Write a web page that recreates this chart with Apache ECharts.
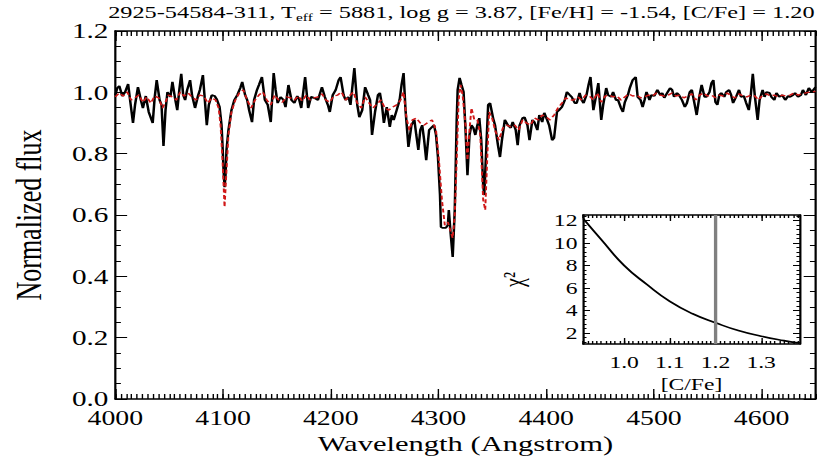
<!DOCTYPE html>
<html>
<head>
<meta charset="utf-8">
<script src="https://cdn.jsdelivr.net/npm/echarts@6/dist/echarts.min.js"></script>
<style>
  html, body { margin: 0; padding: 0; background: #fff; overflow: hidden; width: 817px; height: 461px; }
  /* the figure is laid out on a narrower canvas and widened horizontally */
  #chart { width: 588px; height: 461px; transform: scaleX(1.3895); transform-origin: 0 0; }
</style>
</head>
<body>
<div id="chart"></div>
<script>
// ---- observed spectrum (black) ----
const obsWave = [
  4000.0,4001.8,4003.7,4006.4,4009.1,4011.9,4013.7,4016.4,4018.3,4021.0,4023.7,4025.6,4028.3,4031.0,4034.7,
  4036.5,4038.4,4041.1,4042.9,4044.7,4046.6,4048.4,4051.1,4053.0,4055.7,4057.5,4059.4,4061.2,4063.0,4064.8,
  4066.7,4069.4,4071.2,4074.0,4076.7,4078.5,4081.3,4083.1,4084.9,4086.8,4089.5,4092.2,4094.1,4096.8,4098.6,
  4099.5,4100.5,4101.4,4102.3,4103.2,4105.0,4107.8,4110.5,4113.2,4116.0,4117.8,4120.5,4122.4,4124.2,4126.9,
  4128.8,4131.5,4133.3,4136.1,4138.8,4141.5,4144.3,4147.0,4148.8,4150.7,4153.4,4156.2,4158.0,4160.7,4163.5,
  4166.2,4168.9,4170.8,4172.6,4176.2,4179.0,4181.7,4184.5,4188.1,4191.8,4194.5,4197.3,4199.1,4201.8,4204.6,
  4207.3,4209.1,4211.9,4213.7,4216.4,4218.3,4221.9,4224.6,4226.5,4229.2,4231.9,4234.7,4236.5,4238.3,4241.1,
  4243.8,4245.6,4247.5,4249.3,4252.0,
  4254.8,4256.6,4258.4,4261.2,4263.9,4265.7,4267.6,4269.4,4272.1,4274.9,4277.6,4279.4,4281.3,4283.1,4284.9,
  4286.7,4288.6,4291.3,4294.0,4295.9,4297.7,4299.5,4301.4,4302.3,4304.1,4306.8,4308.7,4309.6,4311.4,4313.2,
  4315.1,4316.9,4317.8,4319.6,4321.4,4323.3,4325.1,4326.9,4328.8,4330.6,4332.4,4334.2,4336.1,4337.9,4339.7,
  4341.5,4342.5,4344.3,4346.1,4347.9,4350.7,4352.5,4355.2,4357.1,4358.9,4361.6,4364.4,4367.1,4368.9,4371.7,
  4373.5,4375.3,4378.1,4379.9,
  4382.6,4384.5,4387.2,4389.0,4391.8,4393.6,4396.3,4398.2,4400.9,4402.7,4405.5,4407.3,4410.0,4411.9,4414.6,
  4417.3,4419.2,4421.9,4423.7,4426.5,4428.3,4431.0,4432.9,4434.7,4437.4,4439.3,4441.1,4443.8,4445.6,4448.4,
  4451.1,4452.9,4455.7,4457.5,4460.3,4462.1,4464.8,4466.7,4469.4,4471.2,4473.0,4475.8,4477.6,4480.3,4483.1,
  4484.9,4487.6,4489.5,4491.3,4493.1,4495.9,4497.7,4500.4,4503.2,4505.9,4507.7,4509.6,
  4512.3,4515.0,4516.9,4518.7,4521.4,4523.3,4526.0,4528.7,4530.6,4533.3,4535.2,4537.9,4539.7,4542.4,4544.3,
  4547.0,4548.8,4551.6,4553.4,4555.2,4557.1,4558.9,4560.7,4562.5,4565.3,4567.1,4569.8,4571.7,4573.5,4576.2,
  4579.0,4580.8,4583.5,4585.4,4588.1,4589.9,4591.8,4593.6,4596.3,4598.1,4600.9,4602.7,4604.5,4607.3,4609.1,
  4611.8,4613.7,4616.4,4619.1,4621.9,4624.6,4626.4,4629.2,4631.0,4633.8,4636.5,4638.3,4641.1,4643.8,4646.5,4650.0
];
const obsFlux = [
  0.991,1.014,1.021,0.988,1.001,1.027,0.975,0.900,0.959,1.017,0.975,0.949,0.988,0.936,0.900,
  0.982,1.040,0.975,0.959,0.825,0.942,1.001,0.985,1.034,0.975,0.942,1.008,1.060,0.991,0.975,
  1.008,1.040,0.991,0.949,0.988,1.008,1.056,0.975,0.893,0.959,0.991,0.988,0.978,0.952,0.893,
  0.828,0.746,0.691,0.730,0.812,0.877,0.942,0.975,0.991,1.014,1.034,0.991,0.975,0.942,0.903,
  0.975,1.008,1.024,1.050,0.975,0.959,0.903,1.063,1.008,0.965,0.985,0.975,0.952,1.024,0.975,
  0.965,0.988,0.975,0.949,1.050,0.949,0.985,0.982,0.975,1.017,0.985,0.959,0.936,0.991,1.008,
  1.040,1.050,0.991,0.975,0.985,0.959,1.079,0.959,0.919,0.942,1.017,0.991,0.975,0.861,0.936,
  0.991,0.998,0.959,0.900,0.952,
  0.887,0.926,0.910,0.942,0.975,1.024,1.063,0.942,0.822,0.893,0.910,0.861,0.812,0.877,0.893,
  0.844,0.779,0.877,0.887,0.893,0.861,0.789,0.665,0.561,0.558,0.558,0.567,0.616,0.535,0.463,
  0.616,0.910,1.008,1.047,1.024,1.001,0.877,0.730,0.861,0.893,0.884,0.861,0.893,0.916,0.844,
  0.698,0.665,0.812,0.959,0.965,0.916,0.893,0.828,0.789,0.844,0.910,0.893,0.884,0.903,0.877,
  0.828,0.893,0.916,0.919,
  0.893,0.844,0.910,0.903,0.877,0.926,0.903,0.933,0.910,0.893,0.844,0.851,0.936,0.942,0.952,
  0.975,1.001,0.991,0.985,0.965,0.965,0.998,0.975,0.965,0.991,1.024,1.050,0.942,0.975,1.030,
  0.910,0.959,1.014,0.991,0.985,1.001,0.975,0.975,0.949,0.936,0.968,0.991,1.014,1.040,1.050,
  0.985,0.975,0.952,0.975,1.001,0.975,0.991,0.988,1.008,0.991,0.998,0.982,
  0.998,1.014,1.008,0.985,0.998,0.991,0.975,0.952,0.965,1.001,1.008,0.959,0.926,0.991,1.024,
  0.985,0.985,1.001,1.030,1.040,0.968,0.959,0.991,0.998,0.985,1.001,1.008,0.991,0.965,0.985,
  1.008,0.985,0.988,0.968,0.942,0.991,1.060,0.991,0.910,0.975,1.008,0.985,1.001,0.998,0.985,
  0.975,0.998,0.985,0.991,0.975,0.988,0.985,0.991,0.998,0.985,0.991,1.008,0.991,1.014,1.001,1.017
];

// ---- best-fit synthetic spectrum (red dashed) ----
const modelWave = [
  4000.0,4003.7,4007.3,4011.0,4014.6,4018.3,4021.9,4025.6,4029.2,4032.9,4036.5,4040.2,4043.8,4046.6,4049.3,
  4053.0,4056.6,4060.3,4063.9,4067.6,4071.2,4074.9,4078.5,4082.2,4085.8,4089.5,4093.1,4095.9,4097.7,4099.5,
  4101.4,4103.2,4105.0,4107.8,4111.4,4115.1,4118.7,4122.4,4126.0,4129.7,4133.3,4137.0,4140.6,4144.3,4147.9,
  4151.6,4155.2,4158.9,4162.5,4166.2,4169.9,4173.5,4177.2,4180.8,4184.5,4188.1,4191.8,4195.4,4199.1,4202.7,
  4206.4,4210.0,4213.7,4217.3,4221.0,4224.6,4228.3,4231.9,4235.6,4239.3,4242.9,4246.6,4250.2,4253.9,4257.5,
  4261.2,4264.8,4267.6,4270.3,4273.0,4275.8,4279.4,4283.1,4286.7,4290.4,4294.0,4297.7,4300.4,4303.2,4305.9,
  4308.7,4311.4,4313.2,4315.1,4316.9,4318.7,4320.5,4322.4,4325.1,4326.9,4328.8,4330.6,4333.3,4336.1,4338.8,
  4341.5,4343.4,4345.2,4347.0,4349.8,4352.5,4356.1,4359.8,4363.5,4367.1,4370.8,4374.4,4378.1,4381.7,4385.4,
  4389.0,4392.7,4396.3,4400.0,4403.6,4407.3,4410.9,4414.6,4418.2,4421.9,4425.5,4429.2,4432.9,4436.5,4440.2,
  4443.8,4447.5,4451.1,4454.8,4458.4,4462.1,4465.7,4469.4,4473.0,4476.7,4480.3,4484.0,4487.6,4491.3,4494.9,
  4498.6,4502.3,4505.9,4509.6,4513.2,4516.9,4520.5,4524.2,4527.8,4531.5,4535.2,4538.8,4542.4,4546.1,4549.7,
  4553.4,4557.1,4560.7,4564.4,4568.0,4571.7,4575.3,4579.0,4582.6,4586.3,4589.9,4593.6,4597.2,4600.9,4604.5,
  4608.2,4611.8,4615.5,4619.1,4622.8,4626.4,4630.1,4633.8,4637.4,4641.1,4644.7,4650.0
];
const modelFlux = [
  0.985,0.998,0.988,1.001,0.975,0.982,0.991,0.968,0.985,0.965,0.988,0.982,0.949,0.968,0.991,
  0.985,0.975,1.001,0.988,0.998,0.985,0.975,0.991,0.988,0.965,0.982,0.975,0.949,0.893,0.779,
  0.626,0.746,0.861,0.936,0.975,0.998,1.008,0.975,0.949,0.975,0.991,1.001,0.975,0.959,0.991,
  0.975,0.968,0.985,0.982,0.975,0.988,0.972,0.991,0.975,0.982,0.985,0.995,0.975,0.968,0.988,
  0.991,1.001,0.975,0.988,1.001,0.965,0.949,0.985,0.965,0.949,0.962,0.975,0.949,0.942,0.952,
  0.959,0.975,1.001,0.916,0.877,0.910,0.916,0.900,0.893,0.903,0.910,0.877,0.779,0.649,0.567,
  0.577,0.545,0.525,0.600,0.779,0.975,1.024,0.991,0.893,0.779,0.877,0.949,0.910,0.910,0.861,
  0.649,0.616,0.779,0.936,0.916,0.877,0.844,0.884,0.893,0.887,0.893,0.877,0.910,0.900,0.893,
  0.916,0.910,0.926,0.919,0.910,0.926,0.949,0.965,0.982,0.975,0.975,0.985,0.975,0.991,0.988,
  0.975,0.998,0.968,0.988,0.991,0.985,0.988,0.975,0.985,0.995,0.988,0.991,0.982,0.985,0.991,
  0.988,0.998,0.991,0.988,0.991,0.998,0.988,0.991,0.982,0.988,0.995,0.975,0.991,0.998,0.988,
  0.991,0.982,0.991,0.988,0.998,0.988,0.982,0.995,0.988,0.985,0.991,0.988,0.975,0.991,0.995,
  0.988,0.991,0.985,0.991,0.988,0.991,0.998,0.991,0.995,0.998,1.001,1.003
];

// ---- chi-square curve of the [C/Fe] fit (inset) ----
const cfeGrid = [0.91, 0.95, 1.00, 1.05, 1.10, 1.15, 1.20, 1.25, 1.30, 1.35, 1.38];
const chiSquare = [12.2, 10.3, 8.0, 6.3, 4.8, 3.7, 2.9, 2.2, 1.7, 1.3, 1.1];
const bestCFe = 1.20;

// ---- tick labels ----
const waveTicks = [4000, 4100, 4200, 4300, 4400, 4500, 4600];
const fluxTicks = [0.0, 0.2, 0.4, 0.6, 0.8, 1.0, 1.2];
const cfeTicks = [1.0, 1.1, 1.2, 1.3];
const chiTicks = [2, 4, 6, 8, 10, 12];

const titleText = '2925-54584-311, T{sub|eff} = 5881, log g = 3.87, [Fe/H] = -1.54, [C/Fe] = 1.20';

const FONT = '"Liberation Serif", "Times New Roman", serif';

function steps(from, to, step) {
  const out = [];
  for (let v = from; v <= to + 1e-9; v += step) out.push(Math.round(v * 1000) / 1000);
  return out;
}
function zip(a, b) { return a.map((v, i) => [v, b[i]]); }

function axis(o) {
  return {
    type: 'value', gridIndex: o.grid, position: o.pos, min: o.min, max: o.max,
    axisLine: { show: !!o.line, onZero: false, lineStyle: { color: '#000', width: o.lw || 1.6 } },
    axisTick: { show: true, inside: true, length: o.len, customValues: o.ticks,
                lineStyle: { color: '#000', width: 1 } },
    axisLabel: o.labels ? {
      show: true, customValues: o.labels, formatter: o.fmt, fontFamily: FONT,
      fontSize: o.fs, lineHeight: o.lh || o.fs, color: '#000', margin: o.margin
    } : { show: false },
    splitLine: { show: false },
    name: o.name || '', nameLocation: 'middle', nameGap: o.nameGap || 0,
    nameRotate: o.nameRotate || 0,
    nameTextStyle: { fontFamily: FONT, fontSize: o.nameSize || 20, color: '#000' }
  };
}

const xMinorMain = steps(4000, 4650, 5);
const yMinorMain = steps(0, 1.2, 0.05);
const xMinorInset = steps(0.91, 1.38, 0.01);
const yMinorInset = steps(1.2, 12.4, 0.4);
const fmt1 = v => Number(v).toFixed(1);

const chart = echarts.init(document.getElementById('chart'), null, { renderer: 'svg' });

chart.setOption({
  animation: false,
  backgroundColor: '#fff',
  grid: [
    { left: 74.8, top: 31, width: 512.1, height: 368 },
    { left: 419.6, top: 215, width: 156.1, height: 129, show: true, backgroundColor: '#fff', borderWidth: 0 }
  ],
  graphic: [{
    type: 'text', x: 332, y: 12,
    style: {
      text: titleText, align: 'center', verticalAlign: 'middle',
      fontFamily: FONT, fontSize: 17.5, lineHeight: 22, fill: '#000',
      rich: { sub: { fontFamily: FONT, fontSize: 11, lineHeight: 11, verticalAlign: 'bottom', fill: '#000' } }
    }
  }],
  xAxis: [
    axis({ grid: 0, pos: 'bottom', min: 4000, max: 4650, line: true, len: 10, ticks: waveTicks,
           labels: waveTicks, fmt: v => String(v), fs: 20, margin: 9,
           name: 'Wavelength (Angstrom)', nameGap: 29, nameSize: 22 }),
    axis({ grid: 0, pos: 'bottom', min: 4000, max: 4650, len: 5, ticks: xMinorMain }),
    axis({ grid: 0, pos: 'top', min: 4000, max: 4650, line: true, len: 10, ticks: waveTicks }),
    axis({ grid: 0, pos: 'top', min: 4000, max: 4650, len: 5, ticks: xMinorMain }),
    axis({ grid: 1, pos: 'bottom', min: 0.91, max: 1.385, line: true, len: 6, ticks: cfeTicks,
           labels: cfeTicks, fmt: fmt1, fs: 17, margin: 10,
           name: '[C/Fe]', nameGap: 32, nameSize: 17 }),
    axis({ grid: 1, pos: 'bottom', min: 0.91, max: 1.385, len: 3, ticks: xMinorInset }),
    axis({ grid: 1, pos: 'top', min: 0.91, max: 1.385, line: true, len: 6, ticks: cfeTicks }),
    axis({ grid: 1, pos: 'top', min: 0.91, max: 1.385, len: 3, ticks: xMinorInset })
  ],
  yAxis: [
    axis({ grid: 0, pos: 'left', min: 0, max: 1.2, line: true, len: 8.5, ticks: fluxTicks,
           labels: fluxTicks, fmt: fmt1, fs: 21, margin: 5,
           name: 'Normalized flux', nameGap: 49, nameRotate: 90, nameSize: 26 }),
    axis({ grid: 0, pos: 'left', min: 0, max: 1.2, len: 4, ticks: yMinorMain }),
    axis({ grid: 0, pos: 'right', min: 0, max: 1.2, line: true, len: 8.5, ticks: fluxTicks }),
    axis({ grid: 0, pos: 'right', min: 0, max: 1.2, len: 4, ticks: yMinorMain }),
    axis({ grid: 1, pos: 'left', min: 1, max: 12.5, line: true, len: 5, ticks: chiTicks,
           labels: chiTicks, fmt: v => String(v), fs: 17, margin: 4,
           name: 'χ²', nameGap: 40, nameRotate: 90, nameSize: 20 }),
    axis({ grid: 1, pos: 'left', min: 1, max: 12.5, len: 2.5, ticks: yMinorInset }),
    axis({ grid: 1, pos: 'right', min: 1, max: 12.5, line: true, len: 5, ticks: chiTicks }),
    axis({ grid: 1, pos: 'right', min: 1, max: 12.5, len: 2.5, ticks: yMinorInset })
  ],
  series: [
    {
      name: 'observed', type: 'line', xAxisIndex: 0, yAxisIndex: 0,
      data: zip(obsWave, obsFlux), symbol: 'none', clip: true, silent: true,
      lineStyle: { color: '#000', width: 1.8 }
    },
    {
      name: 'synthetic', type: 'line', xAxisIndex: 0, yAxisIndex: 0,
      data: zip(modelWave, modelFlux), symbol: 'none', clip: true, silent: true,
      lineStyle: { color: '#d01818', width: 1.4, type: [4, 2.5] }
    },
    {
      name: 'chi2', type: 'line', xAxisIndex: 4, yAxisIndex: 4,
      data: zip(cfeGrid, chiSquare), smooth: true, symbol: 'none', clip: true, silent: true,
      lineStyle: { color: '#000', width: 1.6 },
      markLine: {
        silent: true, symbol: 'none', label: { show: false },
        lineStyle: { color: '#808080', width: 2.4, type: 'solid' },
        data: [{ xAxis: bestCFe }]
      }
    }
  ]
});
</script>
</body>
</html>
